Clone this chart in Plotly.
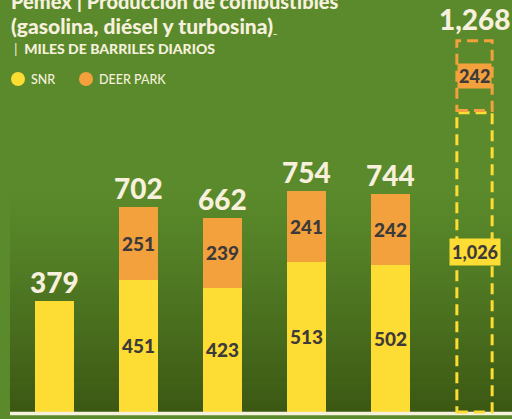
import plotly.graph_objects as go

# ---- data ----
categories = ["2019", "2020", "2021", "2022", "2023", "Meta"]
snr = [379, 451, 423, 513, 502]
deer_park = [None, 251, 239, 241, 242]
goal_snr = 1026
goal_deer_park = 242

title_1 = "Pemex | Producción de combustibles"
title_2 = "(gasolina, diésel y turbosina)<span style='font-size:9px'>_</span>"
subtitle = "<span style='font-weight:normal'>|</span>  MILES DE BARRILES DIARIOS"
legend_names = ["SNR", "DEER PARK"]

# ---- style ----
YELLOW = "#fddc33"
ORANGE = "#f2a13d"
DARK = "#3d3a3a"
CREAM = "#f6f0dc"
BG = "#5a8a2b"
BG_DARK = "#3b5713"
FONT = "Lato"
W, H = 512, 419
K = 0.2927            # px per unit
BASE_PX = 412         # pixel row of zero
BAR_W = 0.464
GOAL_W = 0.42

def py(px_from_top):
    return (H - px_from_top) / H

def px_x(px):
    return px / W

bar_idx = list(range(len(snr)))
goal_idx = len(snr)
totals = [s + (d or 0) for s, d in zip(snr, deer_park)]

fig = go.Figure()
fig.add_bar(
    x=bar_idx, y=snr, width=BAR_W, marker=dict(color=YELLOW, line=dict(width=0)),
    text=[str(s) if d else "" for s, d in zip(snr, deer_park)],
    textposition="inside", insidetextanchor="middle", textangle=0,
    textfont=dict(family=FONT, size=19, color=DARK, weight=900),
    showlegend=False, hoverinfo="skip", name=legend_names[0],
)
fig.add_bar(
    x=bar_idx, y=deer_park, width=BAR_W, marker=dict(color=ORANGE, line=dict(width=0)),
    text=[str(d) if d else "" for d in deer_park],
    textposition="inside", insidetextanchor="middle", textangle=0,
    textfont=dict(family=FONT, size=19, color=DARK, weight=900),
    showlegend=False, hoverinfo="skip", name=legend_names[1],
)

shapes = []
# background gradient behind the plot
n_bands = 60
top_px, bot_px = 190, 413
def hex2rgb(h):
    h = h.lstrip("#"); return tuple(int(h[i:i+2], 16) for i in (0, 2, 4))
c0, c1 = hex2rgb(BG), hex2rgb(BG_DARK)
for i in range(n_bands):
    t = (i + 0.5) / n_bands
    tt = t ** 1.2
    col = "rgb(%d,%d,%d)" % tuple(round(a + (b - a) * tt) for a, b in zip(c0, c1))
    y0 = top_px + (bot_px - top_px) * i / n_bands
    y1 = top_px + (bot_px - top_px) * (i + 1) / n_bands + 0.6
    shapes.append(dict(type="rect", xref="paper", yref="paper", x0=px_x(10), x1=1,
                       y0=py(y1), y1=py(y0), fillcolor=col, line=dict(width=0), layer="below"))
# baseline
shapes.append(dict(type="line", xref="paper", yref="paper", x0=px_x(10), x1=1,
                   y0=py(413.5), y1=py(413.5), line=dict(color=CREAM, width=3.5), layer="above"))
# goal dashed boxes
gx0, gx1 = goal_idx - GOAL_W / 2, goal_idx + GOAL_W / 2
shapes.append(dict(type="rect", xref="x", yref="y", x0=gx0, x1=gx1, y0=0, y1=goal_snr - 4,
                   line=dict(color=YELLOW, width=3, dash="11px,6px"), layer="above"))
shapes.append(dict(type="rect", xref="x", yref="y", x0=gx0, x1=gx1, y0=goal_snr + 4,
                   y1=goal_snr + goal_deer_park,
                   line=dict(color=ORANGE, width=3, dash="11px,6px"), layer="above"))
# legend circles
for cx, col in [(18, YELLOW), (86, ORANGE)]:
    shapes.append(dict(type="circle", xref="paper", yref="paper", xsizemode="pixel", ysizemode="pixel",
                       xanchor=px_x(cx), yanchor=py(79), x0=-7, x1=7, y0=-7, y1=7,
                       fillcolor=col, line=dict(width=0), layer="above"))

ann = []
for i, t in zip(bar_idx, totals):
    ann.append(dict(x=i, y=t, xref="x", yref="y", text=f"{t:,}", showarrow=False,
                    yanchor="bottom", yshift=0,
                    font=dict(family=FONT, size=28, color=CREAM, weight=900)))
goal_total = goal_snr + goal_deer_park
ann.append(dict(x=goal_idx, y=goal_total, xref="x", yref="y", text=f"{goal_total:,}",
                showarrow=False, yanchor="bottom", yshift=3,
                font=dict(family=FONT, size=28, color=CREAM, weight=900)))
ann.append(dict(x=goal_idx, y=goal_snr + goal_deer_park / 2, xref="x", yref="y",
                text=f"{goal_deer_park:,}", showarrow=False, bgcolor=ORANGE, borderpad=1,
                font=dict(family=FONT, size=18, color=DARK, weight=900)))
ann.append(dict(x=goal_idx, y=goal_snr / 2, xref="x", yref="y", yshift=10,
                text=f"{goal_snr:,}", showarrow=False, bgcolor=YELLOW, borderpad=2,
                font=dict(family=FONT, size=18, color=DARK, weight=900)))
# titles
ann.append(dict(x=px_x(9), y=py(1), xref="paper", yref="paper", xanchor="left", yanchor="middle",
                text=title_1, showarrow=False, font=dict(family=FONT, size=20, color=CREAM, weight=900)))
ann.append(dict(x=px_x(9), y=py(25), xref="paper", yref="paper", xanchor="left", yanchor="middle",
                text=title_2, showarrow=False, font=dict(family=FONT, size=21, color=CREAM, weight=900)))
ann.append(dict(x=px_x(12), y=py(49), xref="paper", yref="paper", xanchor="left", yanchor="middle",
                text=subtitle, showarrow=False, font=dict(family=FONT, size=14, color=CREAM, weight=900)))
for tx, name in [(29, legend_names[0]), (97, legend_names[1])]:
    ann.append(dict(x=px_x(tx), y=py(79), xref="paper", yref="paper", xanchor="left", yanchor="middle",
                    text=name, showarrow=False, font=dict(family=FONT, size=12.5, color=CREAM, weight=500)))

fig.update_layout(
    width=W, height=H, margin=dict(l=0, r=0, t=0, b=0),
    paper_bgcolor=BG, plot_bgcolor=BG, barmode="stack", bargap=0,
    shapes=shapes, annotations=ann, showlegend=False,
    xaxis=dict(range=[-54.5 / 84, (W - 54.5) / 84], showticklabels=False, showgrid=False,
               zeroline=False, showline=False, fixedrange=True,
               tickmode="array", tickvals=list(range(len(categories))), ticktext=categories),
    yaxis=dict(range=[-(H - BASE_PX) / K, BASE_PX / K], showticklabels=False, showgrid=False,
               zeroline=False, showline=False, fixedrange=True),
)
fig.write_html("out.html", config={"displayModeBar": False},
               post_script="document.body.style.margin='0';document.body.style.overflow='hidden';")
